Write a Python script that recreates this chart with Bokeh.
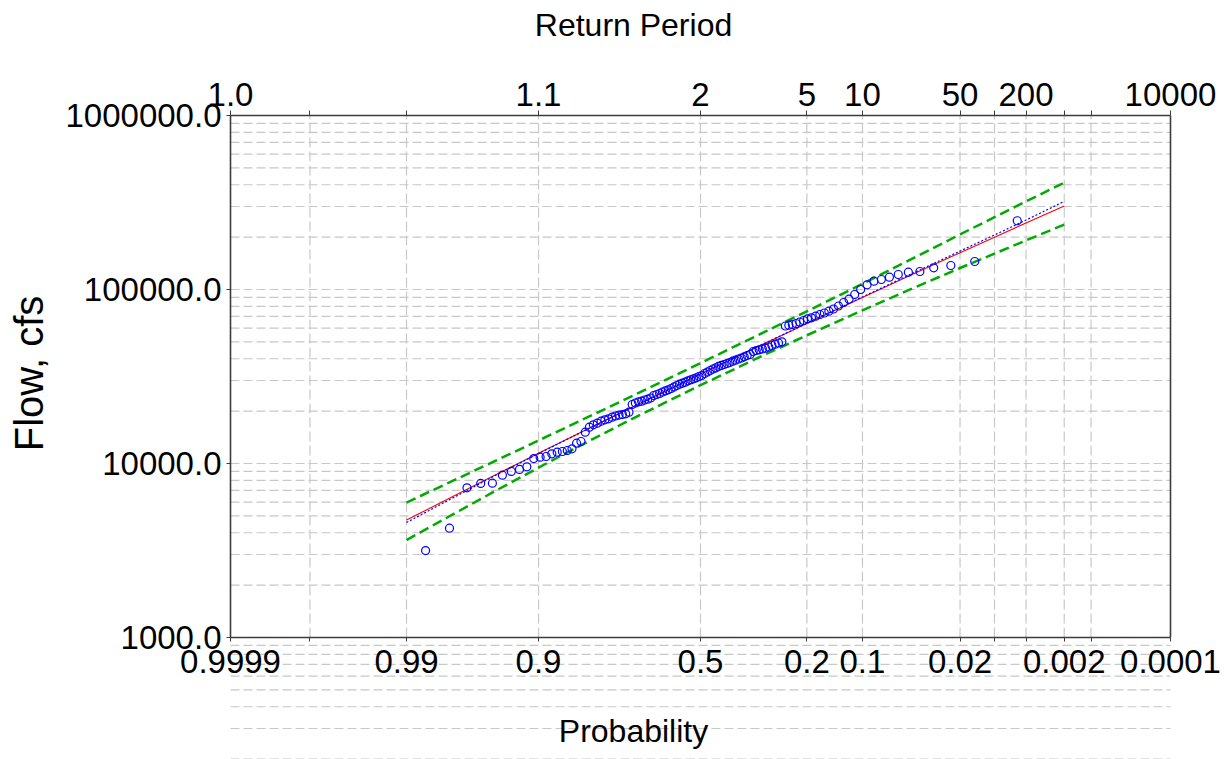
import math
from statistics import NormalDist
from bokeh.plotting import figure
from bokeh.models import Range1d, LinearAxis, LogAxis, FixedTicker, NumeralTickFormatter, LogScale
from bokeh.core.properties import value
from bokeh.embed import file_html
from bokeh.resources import INLINE

# ---------------- data ----------------
point_exceedance = [
    0.9852, 0.9765, 0.9677, 0.9590, 0.9502, 0.9415, 0.9328, 0.9240, 0.9153, 0.9065,
    0.8978, 0.8891, 0.8803, 0.8716, 0.8628, 0.8541, 0.8454, 0.8366, 0.8279, 0.8191,
    0.8104, 0.8017, 0.7929, 0.7842, 0.7754, 0.7667, 0.7580, 0.7492, 0.7405, 0.7317,
    0.7230, 0.7143, 0.7055, 0.6968, 0.6880, 0.6793, 0.6706, 0.6618, 0.6531, 0.6443,
    0.6356, 0.6269, 0.6181, 0.6094, 0.6006, 0.5919, 0.5832, 0.5744, 0.5657, 0.5569,
    0.5482, 0.5395, 0.5307, 0.5220, 0.5132, 0.5045, 0.4958, 0.4870, 0.4783, 0.4695,
    0.4608, 0.4521, 0.4433, 0.4346, 0.4258, 0.4171, 0.4084, 0.3996, 0.3909, 0.3821,
    0.3734, 0.3647, 0.3559, 0.3472, 0.3384, 0.3297, 0.3210, 0.3122, 0.3035, 0.2947,
    0.2860, 0.2773, 0.2685, 0.2598, 0.2510, 0.2423, 0.2336, 0.2248, 0.2161, 0.2073,
    0.1986, 0.1899, 0.1811, 0.1724, 0.1636, 0.1549, 0.1462, 0.1374, 0.1287, 0.1199,
    0.1112, 0.1025, 0.0937, 0.0850, 0.0762, 0.0675, 0.0588, 0.0500, 0.0413, 0.0325,
    0.0238, 0.0150, 0.0061]
point_flow = [
    3160, 4250, 7250, 7680, 7710, 8570, 9000, 9240, 9570, 10680,
    10870, 10970, 11370, 11610, 11720, 11880, 12150, 13080, 13380, 15130,
    16170, 16690, 17050, 17510, 17830, 18070, 18460, 18750, 18990, 19120,
    19300, 19710, 21830, 22270, 22620, 22800, 23170, 23410, 23790, 24590,
    24920, 25250, 25760, 26170, 26520, 26980, 27530, 28080, 28560, 28940,
    29330, 29880, 30270, 30680, 31080, 31620, 32040, 32900, 33570, 34240,
    34930, 35400, 36110, 36590, 37070, 37560, 38070, 38720, 39240, 39870,
    40400, 41050, 41760, 42310, 44030, 44610, 45030, 45500, 45980, 46720,
    47660, 48480, 49260, 50050, 61690, 62340, 62930, 63760, 65040, 66340,
    67860, 68770, 70240, 71830, 73270, 75040, 77250, 80380, 84190, 87960,
    93610, 100000, 106410, 111600, 114150, 117670, 121950, 125720, 126880, 133260,
    137370, 144840, 248300]

curve_exceedance = [0.99, 0.95, 0.9, 0.8, 0.7, 0.5, 0.3, 0.2, 0.1, 0.05, 0.02, 0.01, 0.005, 0.002]
computed_flow = [4732, 8436, 11437, 16465, 21352, 32660, 49660, 63780, 89950, 119100, 162800, 199900, 241300, 302000]
expected_flow = [4580, 8380, 11410, 16450, 21350, 32660, 49700, 63950, 90600, 120600, 166200, 205800, 250600, 321000]
upper_limit_flow = [5957, 10190, 13560, 19210, 24740, 37760, 57810, 74960, 107700, 146500, 207300, 260500, 320900, 411100]
lower_limit_flow = [3631, 6823, 9467, 13950, 18300, 28180, 42760, 54540, 75860, 99060, 132900, 160700, 191600, 236000]

tick_exceedance = [0.9999, 0.999, 0.99, 0.9, 0.5, 0.2, 0.1, 0.02, 0.01, 0.005, 0.002, 0.001, 0.0001]
probability_labels = ["0.9999", "", "0.99", "0.9", "0.5", "0.2", "0.1", "0.02", "", "", "0.002", "", "0.0001"]
return_period_labels = ["1.0", "", "", "1.1", "2", "5", "10", "50", "", "200", "", "", "10000"]
grid_exceedance = [0.999, 0.99, 0.9, 0.5, 0.2, 0.1, 0.02, 0.01, 0.005, 0.002, 0.001]
flow_ticks = [1000, 10000, 100000, 1000000]
flow_grid = [m * d for d in (100, 1000, 10000, 100000) for m in range(1, 10)]

# ---------------- layout ----------------
ND = NormalDist()


def zval(p):
    """standard normal variate of an exceedance probability"""
    return round(ND.inv_cdf(1.0 - p), 6)


FONT = "Liberation Sans"
AXIS_COLOR = "#3c3c3c"
GRID_COLOR = "#c8c8c8"
W, H = 1228, 759
PX_LEFT, PX_RIGHT = 230, 1170      # canvas columns of the plot box
PY_TOP, PY_BOTTOM = 115, 637       # canvas rows of the plot box

x_lo, x_hi = zval(tick_exceedance[0]), zval(tick_exceedance[-1])
y_lo, y_hi = float(flow_ticks[0]), float(flow_ticks[-1])
kx = (PX_RIGHT - PX_LEFT) / (x_hi - x_lo)
ky = (PY_BOTTOM - PY_TOP) / math.log10(y_hi / y_lo)


def sx(px):
    return x_lo + (px - PX_LEFT) / kx


def sy(py):
    return y_lo * 10 ** ((PY_BOTTOM - py) / ky)


p = figure(width=W, height=H,
           x_range=Range1d(sx(0), sx(W)), y_range=Range1d(sy(H), sy(0)),
           y_axis_type="log", x_axis_location=None, y_axis_location=None,
           output_backend="svg", toolbar_location=None,
           min_border_left=0, min_border_top=0, min_border_right=0, min_border_bottom=0,
           background_fill_color="white", border_fill_color="white", outline_line_color=None)
p.y_scale = LogScale()
p.xgrid.visible = False
p.ygrid.visible = False

tick_z = [zval(t) for t in tick_exceedance]

common = dict(axis_line_color=AXIS_COLOR, axis_line_width=1.6,
              major_tick_line_color=AXIS_COLOR, major_tick_in=0, minor_tick_out=0, minor_tick_in=0,
              major_label_text_font=FONT, major_label_text_font_size="33px",
              major_label_text_color="black")

# top axis : return period
top_axis = LinearAxis(fixed_location=y_hi, bounds=(x_lo, x_hi),
                      ticker=FixedTicker(ticks=tick_z, minor_ticks=[]),
                      major_label_overrides={z: lab for z, lab in zip(tick_z, return_period_labels)},
                      major_tick_out=5, major_label_standoff=5, **common)
p.add_layout(top_axis, "above")

# bottom axis : probability
bottom_axis = LinearAxis(fixed_location=y_lo, bounds=(x_lo, x_hi),
                         ticker=FixedTicker(ticks=tick_z, minor_ticks=[]),
                         major_label_overrides={z: lab for z, lab in zip(tick_z, probability_labels)},
                         major_tick_out=4, major_label_standoff=8, **common)
p.add_layout(bottom_axis, "below")

# left axis : flow
left_axis = LogAxis(fixed_location=x_lo, bounds=(y_lo, y_hi),
                    ticker=FixedTicker(ticks=flow_ticks, minor_ticks=[]),
                    formatter=NumeralTickFormatter(format="0.0"),
                    major_tick_out=4, major_label_standoff=5, **common)
p.add_layout(left_axis, "left")

# right border
right_axis = LogAxis(fixed_location=x_hi, bounds=(y_lo, y_hi),
                     ticker=FixedTicker(ticks=[], minor_ticks=[]),
                     axis_line_color=AXIS_COLOR, axis_line_width=1.6,
                     major_tick_out=0, major_tick_in=0, minor_tick_out=0, minor_tick_in=0,
                     major_label_text_font_size="0px")
p.add_layout(right_axis, "right")

# grid lines
gz = [zval(g) for g in grid_exceedance]
p.segment(x0=gz, x1=gz, y0=[y_lo] * len(gz), y1=[y_hi] * len(gz),
          line_color=GRID_COLOR, line_width=1.2, line_dash="10 4", level="underlay")
hg = [v for v in flow_grid if sy(H) <= v < y_hi]
p.segment(x0=[x_lo] * len(hg), x1=[x_hi] * len(hg), y0=hg, y1=hg,
          line_color=GRID_COLOR, line_width=1.2, line_dash="9 4", level="underlay")

# curves
cz = [zval(c) for c in curve_exceedance]
p.line(cz, upper_limit_flow, line_color="#00aa00", line_width=2.5, line_dash="10 5")
p.line(cz, lower_limit_flow, line_color="#00aa00", line_width=2.5, line_dash="10 5")
p.line(cz, computed_flow, line_color="#ff0000", line_width=1.1)
p.line(cz, expected_flow, line_color="#0000ff", line_width=1.2, line_dash="2 2")

# observed points
pz = [zval(v) for v in point_exceedance]
p.scatter(pz, point_flow, marker="circle", size=8, fill_color=None,
          line_color="#0000ff", line_width=1.2)

# axis titles
p.text(x=[sx(633)], y=[sy(24)], text=["Return Period"], text_font=value(FONT),
       text_font_size="32px", text_align="center", text_baseline="alphabetic",
       text_color="black")
p.text(x=[sx(633)], y=[sy(730)], text=["Probability"], text_font=value(FONT),
       text_font_size="32px", text_align="center", text_baseline="alphabetic",
       text_color="black")
p.text(x=[sx(28)], y=[sy(373)], text=["Flow, cfs"], text_font=value(FONT),
       text_font_size="40px", text_align="center", text_baseline="middle",
       angle=math.pi / 2, text_color="black")

open("out.html", "w").write(file_html(p, INLINE))
